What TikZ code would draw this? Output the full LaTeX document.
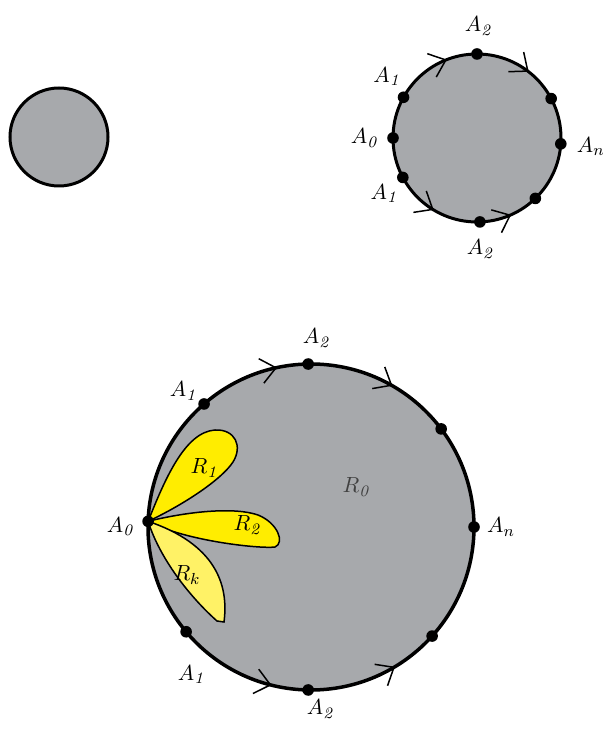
\documentclass[tikz,border=0pt]{standalone}
\usepackage{amsmath,amssymb}
\usepackage{tikz}
\usetikzlibrary{arrows.meta,positioning}

\definecolor{discgray}{RGB}{167,169,172}
\definecolor{petalyellow}{RGB}{255,237,0}
\definecolor{petallight}{RGB}{255,242,102}

\begin{document}
\begin{tikzpicture}[
      x=0.5pt, y=0.5pt,
      disc/.style={
          circle,
          draw=black,
          fill=discgray,
          inner sep=0pt,
          outer sep=0pt
        },
      dot/.style={circle, fill=black, inner sep=0pt, minimum size=5.8pt},
      lbl/.style={inner sep=0pt, font=\fontsize{11}{13}\selectfont},
      petal/.style={draw=black, line width=0.75pt},
      barb/.style={line width=0.75pt, -{Straight Barb[length=7.5pt,width=12.5pt]}}
    ]
    \useasboundingbox (0,0) rectangle (606,729);

    % lone disc
    \node[disc, line width=1.5pt, minimum size=49pt] (lone) at (59,592) {};

    % small ring
    \node[disc, line width=1.5pt, minimum size=84pt] (ring) at (477,591) {};
    \node[dot] (rA2t) at (ring.90) {};
    \node[dot] (rA1t) at (ring.151) {};
    \node[dot] (rA0) at (ring.180) {};
    \node[dot] (rA1b) at (ring.208) {};
    \node[dot] (rA2b) at (ring.272) {};
    \node[dot] (rBr) at (ring.314.5) {};
    \node[dot] (rAn) at (ring.356.5) {};
    \node[dot] (rTr) at (ring.28.7) {};
    \draw[barb] (ring.111) ++(201:8) -- (ring.111);
    \draw[barb] (ring.52) ++(142:8) -- (ring.52);
    \draw[barb] (ring.239) ++(149:8) -- (ring.239);
    \draw[barb] (ring.294) ++(204:8) -- (ring.294);
    \node[lbl] (lrA2t) at ([shift={(2,28)}]rA2t) {$A_{\mathit{2}}$};
    \node[lbl] (lrA1t) at ([shift={(-16,21)}]rA1t) {$A_{\mathit{1}}$};
    \node[lbl] (lrA0) at ([shift={(-28,0)}]rA0) {$A_{\mathit{0}}$};
    \node[lbl] (lrA1b) at ([shift={(-18,-16)}]rA1b) {$A_{\mathit{1}}$};
    \node[lbl] (lrA2b) at ([shift={(1,-27)}]rA2b) {$A_{\mathit{2}}$};
    \node[lbl] (lrAn) at ([shift={(30,-3)}]rAn) {$A_n$};

    % big disc with petals
    \node[disc, line width=1.75pt, minimum size=163pt] (disk) at (311,202) {};
    \coordinate (o) at (disk.178.6);
    \filldraw[petal, fill=petalyellow] (o) .. controls (165,250) and (185,297) .. (215,299)
      .. controls (235,300) and (243,283) .. (233,267)
      .. controls (222,250) and (185,225) .. (o);
    \filldraw[petal, fill=petalyellow] (o) .. controls (190,218) and (235,222) .. (258,214)
      .. controls (278,206) and (285,186) .. (275,182)
      .. controls (260,180) and (185,188) .. (o);
    \filldraw[petal, fill=petallight] (o) .. controls (160,170) and (190,132) .. (217,108)
      -- (224,107) .. controls (229,145) and (215,185) .. (o);
    \node[dot] (dA2t) at (disk.91) {};
    \node[dot] (dA1t) at (disk.131.8) {};
    \node[dot] (dA0) at (o) {};
    \node[dot] (dA1b) at (disk.220.3) {};
    \node[dot] (dA2b) at (disk.269.7) {};
    \node[dot] (dBr) at (disk.318.7) {};
    \node[dot] (dAn) at (disk.0) {};
    \node[dot] (dTr) at (disk.37.4) {};
    \draw[barb] (disk.102) ++(192:8) -- (disk.102);
    \draw[barb] (disk.60) ++(150:8) -- (disk.60);
    \draw[barb] (disk.256.5) ++(166.5:8) -- (disk.256.5);
    \draw[barb] (disk.301) ++(211:8) -- (disk.301);
    \node[lbl] (ldA2t) at ([shift={(9,26)}]dA2t) {$A_{\mathit{2}}$};
    \node[lbl] (ldA1t) at ([shift={(-20,13)}]dA1t) {$A_{\mathit{1}}$};
    \node[lbl] (ldA0) at ([shift={(-27,-5)}]dA0) {$A_{\mathit{0}}$};
    \node[lbl] (ldA1b) at ([shift={(6,-43)}]dA1b) {$A_{\mathit{1}}$};
    \node[lbl] (ldA2b) at ([shift={(13,-19)}]dA2b) {$A_{\mathit{2}}$};
    \node[lbl] (ldAn) at ([shift={(27,0)}]dAn) {$A_n$};
    \node[lbl] (lR1) at (205,261) {$R_{\mathit{1}}$};
    \node[lbl] (lR2) at (248,204) {$R_{\mathit{2}}$};
    \node[lbl] (lRk) at (187,154) {$R_k$};
    \node[lbl, text=black!75] (lR0) at (357,242) {$R_{\mathit{0}}$};
  \end{tikzpicture}
\end{document}
